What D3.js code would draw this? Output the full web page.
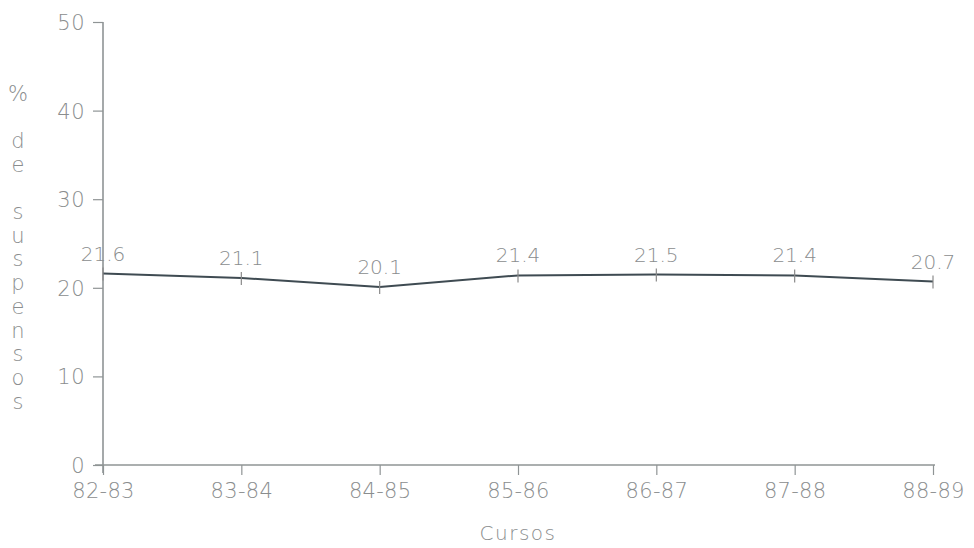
<!DOCTYPE html>
<html><head><meta charset="utf-8">
<script src="https://cdn.jsdelivr.net/npm/d3@7"></script>
<style>html,body{margin:0;padding:0;background:#fff;}svg{display:block;}</style>
</head><body><svg id="c" width="974" height="548"></svg>
<script>
const cursos = ["82-83","83-84","84-85","85-86","86-87","87-88","88-89"];
const suspensos = [21.6, 21.1, 20.1, 21.4, 21.5, 21.4, 20.7];
const yTicks = [0, 10, 20, 30, 40, 50];
const yTitleLetters = ["%", "", "d", "e", "", "s", "u", "s", "p", "e", "n", "s", "o", "s"];
const xTitle = "Cursos";

(function () {
const svg = d3.select("#c");
const mLeft = 103, mRight = 933, mTop = 22, mBottom = 465;
const txt = "#8a8d8e", axc = "#8f9495";
const font = "'DejaVu Sans', Verdana, sans-serif";
const fw = 200;

const x = d3.scalePoint().domain(cursos).range([mLeft, mRight]);
const y = d3.scaleLinear().domain([0, 50]).range([mBottom, mTop]);

// y axis
const gy = svg.append("g").attr("transform", `translate(${mLeft},0)`)
  .call(d3.axisLeft(y).tickValues(yTicks).tickSize(10).tickPadding(8).tickFormat(d3.format("d")));
gy.select(".domain").attr("stroke", axc).attr("stroke-width", 1.6).attr("d", `M0,${mTop}V${mBottom + 8}`);
gy.selectAll(".tick line").attr("stroke", axc).attr("stroke-width", 1.2);
gy.selectAll(".tick text").attr("fill", txt).style("font-family", font).style("font-weight", fw)
  .style("font-size", "21px").attr("letter-spacing", "0.5px").attr("dy", "0.36em");

// x axis
const gx = svg.append("g").attr("transform", `translate(0,${mBottom})`)
  .call(d3.axisBottom(x).tickSize(10).tickPadding(8));
gx.select(".domain").attr("stroke", axc).attr("stroke-width", 1.6).attr("d", `M${mLeft - 8},0H${mRight + 2}`);
gx.selectAll(".tick line").attr("stroke", axc).attr("stroke-width", 1.2);
gx.selectAll(".tick text").attr("fill", txt).style("font-family", font).style("font-weight", fw)
  .style("font-size", "21px").attr("letter-spacing", "0.3px");

// x title
svg.append("text").attr("x", 518).attr("y", 540).attr("text-anchor", "middle")
  .attr("fill", txt).style("font-family", font).style("font-weight", fw)
  .style("font-size", "20px").attr("letter-spacing", "1.5px")
  .text(xTitle);

// y title, stacked letters
const step = 23.7;
svg.append("g").selectAll("text").data(yTitleLetters).join("text")
  .attr("x", 18).attr("y", (d, i) => 93 + i * step)
  .attr("text-anchor", "middle").attr("dy", "0.36em")
  .attr("fill", txt).style("font-family", font).style("font-weight", fw).style("font-size", "21px")
  .text(d => d);

// line
const line = d3.line().x((d, i) => x(cursos[i])).y(d => y(d));
svg.append("path").datum(suspensos).attr("d", line)
  .attr("fill", "none").attr("stroke", "#3f4b52").attr("stroke-width", 2);

// point markers (small vertical ticks)
svg.append("g").selectAll("line").data(suspensos).join("line")
  .attr("x1", (d, i) => x(cursos[i])).attr("x2", (d, i) => x(cursos[i]))
  .attr("y1", d => y(d) - 6).attr("y2", d => y(d) + 7)
  .attr("stroke", "#8a8a8a").attr("stroke-width", 1.2);

// value labels
svg.append("g").selectAll("text").data(suspensos).join("text")
  .attr("x", (d, i) => x(cursos[i])).attr("y", d => y(d) - 13)
  .attr("text-anchor", "middle").attr("fill", txt)
  .style("font-family", font).style("font-weight", fw).style("font-size", "20px")
  .text(d => d3.format(".1f")(d));
})();
</script></body></html>
